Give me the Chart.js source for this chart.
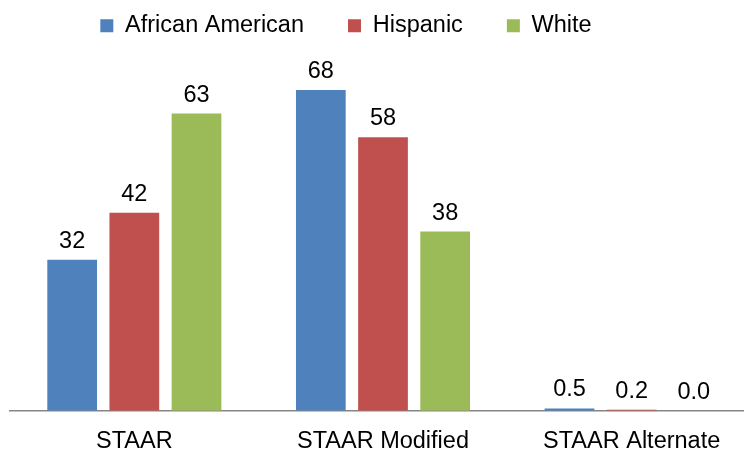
<!DOCTYPE html>
<html>
<head>
<meta charset="utf-8">
<script src="https://cdn.jsdelivr.net/npm/chart.js@4"></script>
<style>
  html, body { margin: 0; padding: 0; background: #fff; overflow: hidden; }
  #wrap { width: 756px; height: 452px; }
</style>
</head>
<body>
<div id="wrap"><canvas id="myChart"></canvas></div>
<script>
  'use strict'

  const categories = ['STAAR', 'STAAR Modified', 'STAAR Alternate']
  const africanAmerican = [32, 68, 0.5]
  const hispanic = [42, 58, 0.2]
  const white = [63, 38, 0.0]

  const seriesNames = ['African American', 'Hispanic', 'White']
  const seriesColors = ['#4F81BD', '#C0504D', '#9BBB59']

  const fontFamily = '"Liberation Sans", Arial, sans-serif'
  const fontSize = 23.5

  // value labels above each bar
  const valueLabels = {
    id: 'valueLabels',
    afterDatasetsDraw (chart) {
      const ctx = chart.ctx
      ctx.save()
      ctx.font = fontSize + 'px ' + fontFamily
      ctx.fillStyle = '#000'
      ctx.textAlign = 'center'
      ctx.textBaseline = 'alphabetic'
      chart.data.datasets.forEach((ds, i) => {
        const meta = chart.getDatasetMeta(i)
        meta.data.forEach((bar, j) => {
          const v = ds.data[j]
          const txt = v < 1 ? v.toFixed(1) : v.toFixed(0)
          ctx.fillText(txt, bar.x, bar.y - 12)
        })
      })
      ctx.restore()
    }
  }

  // legend sits a bit left of centre in the original
  const legendShift = {
    id: 'legendShift',
    afterLayout (chart) {
      chart.legend.left -= 37
      chart.legend.right -= 37
    }
  }

  const ctx = document.getElementById('myChart')
  // eslint-disable-next-line no-unused-vars
  const myChart = new Chart(ctx, {
    type: 'bar',
    data: {
      labels: categories,
      datasets: [africanAmerican, hispanic, white].map((d, i) => ({
        label: seriesNames[i],
        data: d,
        backgroundColor: seriesColors[i],
        borderWidth: 0,
        categoryPercentage: 0.75,
        barPercentage: 0.8
      }))
    },
    options: {
      responsive: true,
      maintainAspectRatio: false,
      animation: false,
      layout: {
        padding: { top: -30, left: 10, right: 0, bottom: -21 }
      },
      scales: {
        x: {
          grid: { display: false, drawTicks: false },
          border: { display: true, color: '#868686', width: 1.5 },
          ticks: {
            color: '#000',
            padding: 17,
            font: { family: fontFamily, size: fontSize }
          }
        },
        y: {
          display: false,
          min: 0,
          max: 77
        }
      },
      plugins: {
        legend: {
          position: 'top',
          labels: {
            color: '#000',
            boxWidth: 13,
            boxHeight: 13,
            padding: 44,
            font: { family: fontFamily, size: fontSize }
          }
        },
        tooltip: { enabled: false }
      }
    },
    plugins: [valueLabels, legendShift]
  })
</script>
</body>
</html>
